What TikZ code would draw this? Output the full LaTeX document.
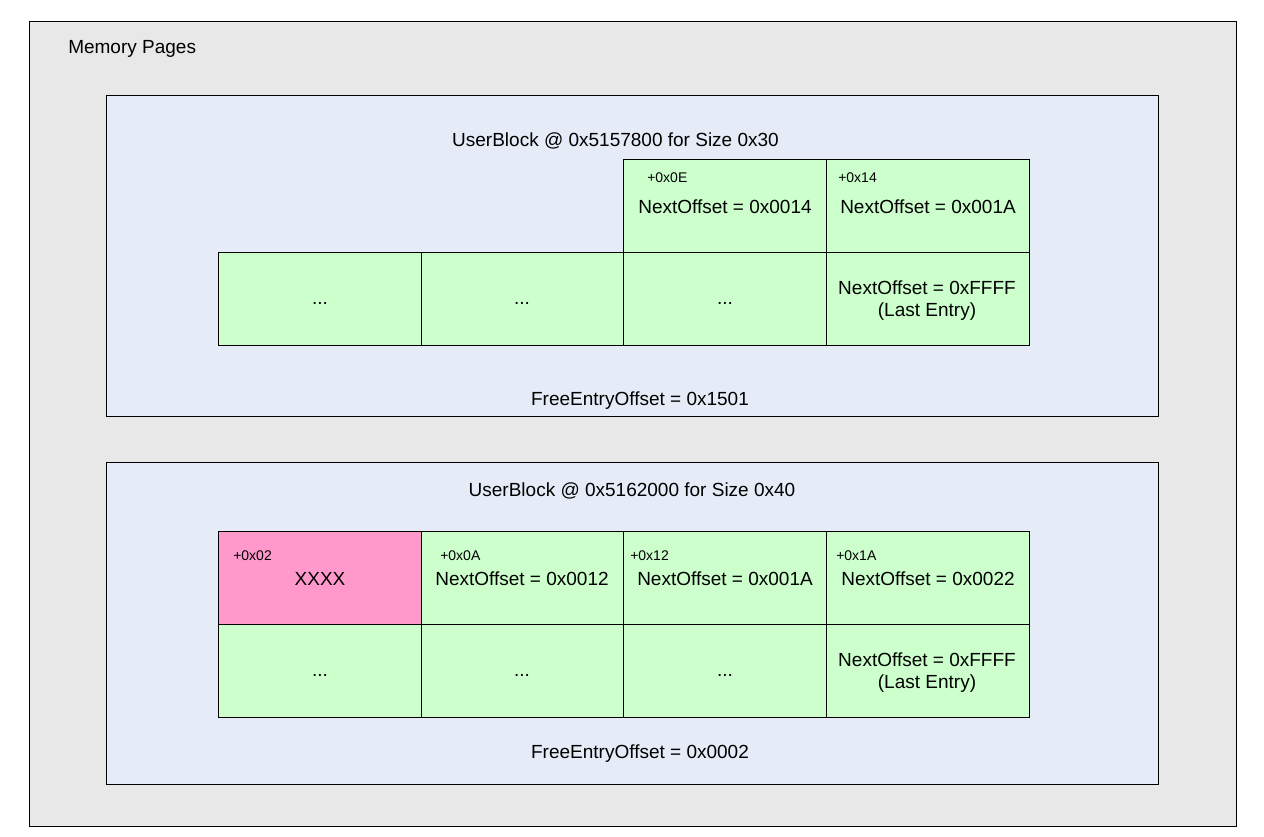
\documentclass[tikz,border=0pt]{standalone}
\usepackage{fontspec}
\setmainfont{Liberation Sans}
\begin{document}
\begin{tikzpicture}[x=0.75pt,y=-0.75pt,
  pagebox/.style={draw=black,line width=0.75pt,fill=pagegray},
  blockbox/.style={draw=black,line width=0.75pt,fill=blockblue},
  cell/.style={draw=black,line width=0.75pt,fill=cellgreen,minimum width=152.25pt,minimum height=69.75pt,inner sep=0pt,anchor=north west},
  badcell/.style={cell,fill=cellpink},
  txt/.style={inner sep=0pt,yshift=-1.5pt,font=\fontsize{14.25pt}{17pt}\selectfont},
  small/.style={inner sep=0pt,anchor=west,yshift=-1pt,font=\fontsize{10.5pt}{12pt}\selectfont}]
\definecolor{pagegray}{HTML}{E8E8E8}
\definecolor{blockblue}{HTML}{E6ECF7}
\definecolor{cellgreen}{HTML}{CCFFCC}
\definecolor{cellpink}{HTML}{FF99CC}
\useasboundingbox (0,0) rectangle (1264,837);
\fill[white] (0,0) rectangle (1264,837);
\draw[pagebox] (29,22) rectangle (1236,826);
\node[txt,anchor=west] (mp) at (68,47) {Memory Pages};
% top user block
\draw[blockbox] (106,96) rectangle (1158,417);
\node[txt] (t1) at (615.5,139) {UserBlock @ 0x5157800 for Size 0x30};
\node[cell] (a3) at (623,159) {};
\node[cell] (a4) at (826,159) {};
\node[cell] (b1) at (218,252) {};
\node[cell] (b2) at (421,252) {};
\node[cell] (b3) at (623,252) {};
\node[cell] (b4) at (826,252) {};
\node[small] (la3) at (647,176) {+0x0E};
\node[txt] (ta3) at (725,205) {NextOffset = 0x0014};
\node[small] (la4) at (838,176) {+0x14};
\node[txt] (ta4) at (928,205) {NextOffset = 0x001A};
\node[txt] (tb1) at (320,301) {...};
\node[txt] (tb2) at (522,301) {...};
\node[txt] (tb3) at (725,301) {...};
\node[txt] (tb4a) at (927,286) {NextOffset = 0xFFFF};
\node[txt] (tb4b) at (927,310) {(Last Entry)};
\node[txt] (f1) at (640,399) {FreeEntryOffset = 0x1501};
% bottom user block
\draw[blockbox] (106,463) rectangle (1158,784);
\node[txt] (t2) at (632,489) {UserBlock @ 0x5162000 for Size 0x40};
\node[badcell] (c1) at (218,531) {};
\node[cell] (c2) at (421,531) {};
\node[cell] (c3) at (623,531) {};
\node[cell] (c4) at (826,531) {};
\node[cell] (d1) at (218,624) {};
\node[cell] (d2) at (421,624) {};
\node[cell] (d3) at (623,624) {};
\node[cell] (d4) at (826,624) {};
\node[small] (lc1) at (233,554) {+0x02};
\node[txt] (tc1) at (320,577) {XXXX};
\node[small] (lc2) at (440,554) {+0x0A};
\node[txt] (tc2) at (522,577) {NextOffset = 0x0012};
\node[small] (lc3) at (630,554) {+0x12};
\node[txt] (tc3) at (725,577) {NextOffset = 0x001A};
\node[small] (lc4) at (836,554) {+0x1A};
\node[txt] (tc4) at (928,577) {NextOffset = 0x0022};
\node[txt] (td1) at (320,673) {...};
\node[txt] (td2) at (522,673) {...};
\node[txt] (td3) at (725,673) {...};
\node[txt] (td4a) at (927,658) {NextOffset = 0xFFFF};
\node[txt] (td4b) at (927,682) {(Last Entry)};
\node[txt] (f2) at (640,752) {FreeEntryOffset = 0x0002};
\end{tikzpicture}
\end{document}
